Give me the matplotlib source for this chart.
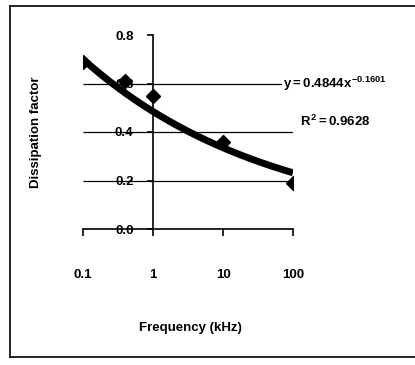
import numpy as np
import matplotlib.pyplot as plt
from matplotlib.lines import Line2D

plt.rcParams['font.family'] = 'Liberation Sans'
plt.rcParams['font.weight'] = 'bold'
plt.rcParams['mathtext.fontset'] = 'custom'
plt.rcParams['mathtext.rm'] = 'Liberation Sans:bold'
plt.rcParams['mathtext.it'] = 'Liberation Sans:bold'
plt.rcParams['mathtext.bf'] = 'Liberation Sans:bold'

# measured data
freq_khz = [0.1, 0.4, 1, 10, 100]
dissipation = [0.69, 0.61, 0.55, 0.36, 0.19]

# power trendline fitted in the spreadsheet
fit_a = 0.4844
fit_b = -0.1601
fit_r2 = 0.9628

x_ticks = [0.1, 1, 10, 100]
x_ticklabels = ['0.1', '1', '10', '100']
y_ticks = [0.0, 0.2, 0.4, 0.6, 0.8]

fig = plt.figure(figsize=(4.15, 3.65), dpi=100)
ax = fig.add_axes([83 / 415, 136 / 365, 210 / 415, 194 / 365])

ax.set_xscale('log')
ax.set_xlim(0.1, 100)
ax.set_ylim(0, 0.8)

# y axis crosses at 1 kHz
ax.spines['top'].set_visible(False)
ax.spines['right'].set_visible(False)
ax.spines['left'].set_position(('data', 1))
ax.spines['left'].set_linewidth(1.2)
ax.spines['bottom'].set_linewidth(1.2)

ax.set_xticks(x_ticks)
ax.set_xticklabels(x_ticklabels)
ax.xaxis.set_minor_locator(plt.NullLocator())
ax.set_yticks(y_ticks)
ax.set_yticklabels([f'{v:.1f}' for v in y_ticks])
ax.tick_params(axis='x', direction='out', length=5, width=1.2, pad=24, labelsize=9.5)
ax.tick_params(axis='y', direction='out', length=4, width=1.2, pad=10, labelsize=9.5)

# gridlines over the tick labels
ax.hlines([0.2, 0.4, 0.6], 0.1, 100, colors='black', linewidth=0.9, zorder=3)

xs = np.logspace(-1, 2, 200)
ax.plot(xs, fit_a * xs ** fit_b, color='black', linewidth=5,
        solid_capstyle='butt', zorder=4)
ax.plot(freq_khz, dissipation, linestyle='none', marker='D', markersize=7,
        color='black', zorder=5)

ax.text(72, 0.6, r'$y = %.4fx^{%.4f}$' % (fit_a, fit_b), fontsize=9.5,
        va='center', ha='left', clip_on=False, zorder=6,
        bbox=dict(facecolor='white', edgecolor='none', pad=0.5))
ax.text(126, 0.445, r'$R^2 = %.4f$' % fit_r2, fontsize=9.5, va='center',
        ha='left', clip_on=False)

fig.text(190 / 415, 1 - 328 / 365, 'Frequency (kHz)', ha='center',
         va='center', fontsize=9.5)
fig.text(36 / 415, 1 - 132 / 365, 'Dissipation factor', ha='center',
         va='center', rotation=90, fontsize=9.5)

# chart border
for xd, yd in [((10 / 415, 1.0), (1 - 6 / 365, 1 - 6 / 365)),
               ((10 / 415, 10 / 415), (1 - 6 / 365, 1 - 357 / 365)),
               ((10 / 415, 1.0), (1 - 357 / 365, 1 - 357 / 365))]:
    fig.add_artist(Line2D(xd, yd, color='black', linewidth=1.2))

fig.savefig('out.png', dpi=100)
